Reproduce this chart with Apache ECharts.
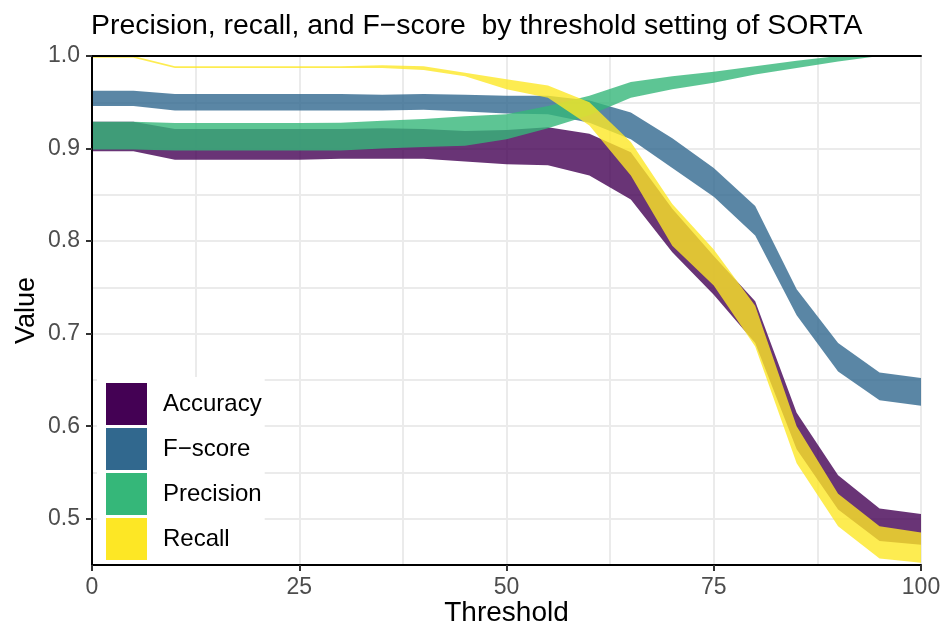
<!DOCTYPE html>
<html>
<head>
<meta charset="utf-8">
<script src="https://cdn.jsdelivr.net/npm/echarts@6/dist/echarts.min.js"></script>
<style>
html,body{margin:0;padding:0;background:#fff;}
#chart{width:941px;height:629px;}
</style>
</head>
<body>
<div id="chart"></div>
<script>
const thresholds = [0,5,10,15,20,25,30,35,40,45,50,55,60,65,70,75,80,85,90,95,100];
const accuracyLow  = [0.897,0.897,0.888,0.888,0.888,0.888,0.889,0.889,0.889,0.886,0.883,0.882,0.871,0.845,0.788,0.742,0.690,0.575,0.510,0.476,0.472];
const accuracyHigh = [0.929,0.929,0.921,0.921,0.921,0.921,0.921,0.922,0.921,0.919,0.920,0.923,0.916,0.896,0.835,0.784,0.735,0.6145,0.547,0.511,0.505];
const fscoreLow    = [0.946,0.946,0.941,0.941,0.941,0.941,0.941,0.941,0.942,0.940,0.938,0.937,0.928,0.910,0.879,0.848,0.806,0.720,0.659,0.628,0.622];
const fscoreHigh   = [0.9625,0.9625,0.959,0.959,0.959,0.959,0.959,0.958,0.959,0.958,0.957,0.957,0.952,0.939,0.911,0.879,0.838,0.748,0.690,0.658,0.652];
const precisionLow = [0.899,0.899,0.898,0.898,0.898,0.898,0.898,0.900,0.9017,0.903,0.910,0.922,0.936,0.955,0.964,0.971,0.980,0.987,0.994,1.0,1.0];
const precisionHigh= [0.929,0.929,0.9276,0.9276,0.9276,0.9276,0.928,0.930,0.932,0.935,0.937,0.946,0.957,0.972,0.978,0.983,0.989,0.995,1.0,1.0,1.0];
const recallLow    = [0.998,0.998,0.987,0.987,0.987,0.987,0.987,0.987,0.985,0.978,0.964,0.955,0.925,0.871,0.795,0.752,0.686,0.560,0.492,0.457,0.4525];
const recallHigh   = [1.0,1.0,0.989,0.989,0.989,0.989,0.989,0.990,0.989,0.982,0.975,0.968,0.950,0.907,0.840,0.791,0.730,0.600,0.527,0.492,0.485];

const seriesNames = ['Accuracy','F\u2212score','Precision','Recall'];
const seriesColors = ['#440154','#31688E','#35B779','#FDE725'];
const yTicks = [0.5,0.6,0.7,0.8,0.9,1.0];
const xTicks = [0,25,50,75,100];

const FONT = 'Liberation Sans, Arial, Helvetica, sans-serif';

function band(idx, lo, hi) {
  const color = seriesColors[idx];
  return {
    type: 'custom',
    name: seriesNames[idx],
    coordinateSystem: 'cartesian2d',
    xAxisIndex: 0, yAxisIndex: 0,
    clip: true,
    z: 2 + idx,
    itemStyle: { color: color },
    data: thresholds.map((t, i) => [t, lo[i], hi[i]]),
    encode: { x: 0, y: [1, 2] },
    renderItem: function (params, api) {
      if (params.dataIndex !== 0) return null;
      const pts = [];
      for (let i = 0; i < thresholds.length; i++) pts.push(api.coord([thresholds[i], hi[i]]));
      for (let i = thresholds.length - 1; i >= 0; i--) pts.push(api.coord([thresholds[i], lo[i]]));
      return { type: 'polygon', shape: { points: pts }, style: { fill: color, opacity: 0.8 } };
    }
  };
}

const chart = echarts.init(document.getElementById('chart'), null, { renderer: 'canvas' });
const gridLine = { show: true, lineStyle: { color: '#ebebeb', width: 2 } };
const blackLine = { show: true, lineStyle: { color: '#000', width: 2 } };

chart.setOption({
  animation: false,
  backgroundColor: '#fff',
  textStyle: { fontFamily: FONT },
  title: {
    text: 'Precision, recall, and F\u2212score  by threshold setting of SORTA',
    left: 91, top: 12, padding: 0,
    textStyle: { fontFamily: FONT, fontSize: 28.4, fontWeight: 'normal', color: '#000' }
  },
  grid: { left: 92, right: 20, top: 56, bottom: 64, show: false, containLabel: false, outerBoundsMode: 'none' },
  legend: {
    orient: 'vertical',
    left: 97, top: 377,
    padding: [6, 3, 6, 9],
    backgroundColor: '#fff',
    itemWidth: 41, itemHeight: 42, itemGap: 3,
    icon: 'rect',
    data: seriesNames,
    textStyle: { fontFamily: FONT, fontSize: 24, color: '#000', padding: [0, 0, 0, 11] },
    z: 10
  },
  xAxis: [
    { type: 'value', gridIndex: 0, min: 0, max: 100, interval: 12.5, position: 'bottom',
      axisLine: { show: false }, axisTick: { show: false }, axisLabel: { show: false },
      splitLine: gridLine },
    { type: 'value', gridIndex: 0, min: 0, max: 100, interval: 25, position: 'bottom', z: 20,
      axisLine: blackLine,
      axisTick: { show: true, length: 6, lineStyle: { color: '#333', width: 2 } },
      axisLabel: { show: true, margin: 11, fontSize: 23, color: '#4d4d4d', fontFamily: FONT },
      splitLine: { show: false },
      name: 'Threshold', nameLocation: 'middle', nameGap: 34, nameMoveOverlap: false,
      nameTextStyle: { fontSize: 28, color: '#000', fontFamily: FONT } },
    { type: 'value', gridIndex: 0, min: 0, max: 100, position: 'top', z: 20,
      axisLine: blackLine, axisTick: { show: false }, axisLabel: { show: false }, splitLine: { show: false } }
  ],
  yAxis: [
    { type: 'value', gridIndex: 0, min: 0.45, max: 1.0, interval: 0.05, position: 'left',
      axisLine: { show: false }, axisTick: { show: false }, axisLabel: { show: false },
      splitLine: gridLine },
    { type: 'value', gridIndex: 0, min: 0.45, max: 1.0, position: 'left', z: 20,
      axisLine: blackLine,
      axisTick: { show: true, length: 6, customValues: yTicks, lineStyle: { color: '#333', width: 2 } },
      axisLabel: { show: true, margin: 12, fontSize: 23, color: '#4d4d4d', fontFamily: FONT,
        customValues: yTicks, formatter: v => v.toFixed(1) },
      splitLine: { show: false },
      name: 'Value', nameLocation: 'middle', nameGap: 52, nameRotate: 90, nameMoveOverlap: false,
      nameTextStyle: { fontSize: 27, color: '#000', fontFamily: FONT } },
    { type: 'value', gridIndex: 0, min: 0.45, max: 1.0, position: 'right', z: 20,
      axisLine: blackLine, axisTick: { show: false }, axisLabel: { show: false }, splitLine: { show: false } }
  ],
  series: [
    band(0, accuracyLow, accuracyHigh),
    band(1, fscoreLow, fscoreHigh),
    band(2, precisionLow, precisionHigh),
    band(3, recallLow, recallHigh)
  ]
});
</script>
</body>
</html>
